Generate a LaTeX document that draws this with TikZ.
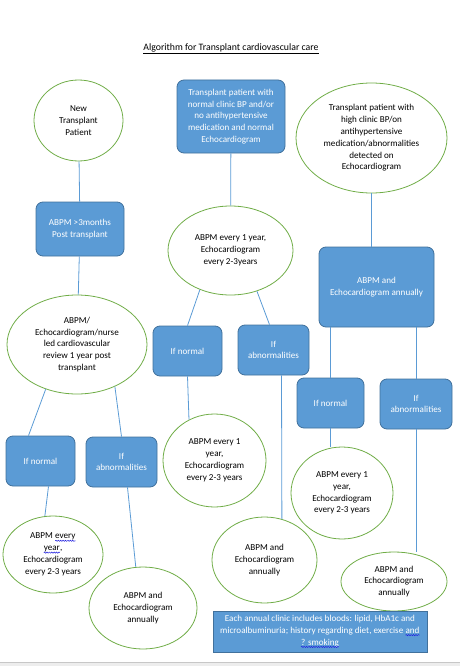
\documentclass[tikz,border=0pt]{standalone}
\usepackage{fontspec}
\setmainfont{Carlito}
\usetikzlibrary{shapes.geometric,decorations.pathmorphing}

\definecolor{boxblue}{HTML}{5B9BD5}
\definecolor{boxedge}{HTML}{41719C}
\definecolor{ellgreen}{HTML}{70AD47}
\definecolor{wavyblue}{HTML}{2020E0}

\newcommand\spellwave[1]{\tikz[baseline=(w.base),x=1pt,y=1pt]{\node[shape=rectangle,draw=none,fill=none,
  inner sep=0pt,outer sep=0pt,minimum width=0pt,minimum height=0pt,rounded corners=0pt] (w) {#1};
  \draw[wavyblue,line width=0.5pt,decorate,decoration={snake,amplitude=0.6pt,segment length=2.4pt}] ([yshift=-1.8pt]w.base west) -- ([yshift=-1.8pt]w.base east);}}

\begin{document}
\begin{tikzpicture}[x=1pt,y=-1pt,
  txt/.style={font=\fontsize{9.1}{11.8}\selectfont,align=center,inner sep=0pt},
  bluebox/.style={txt,draw=boxedge,fill=boxblue,rounded corners=7pt,text=white,line width=0.8pt},
  greenell/.style={txt,ellipse,draw=ellgreen,fill=white,line width=0.8pt},
  conn/.style={draw=boxblue,line width=0.8pt}]
  \useasboundingbox (0,0) rectangle (460,666);
  \fill[black!7] (0,662) rectangle (460,666);
  \draw[black!22] (0,662) -- (460,662);

  \node[txt,font=\fontsize{9.8}{12}\selectfont] (title) at (231,49) {\underline{Algorithm for Transplant cardiovascular care}};

  \node[greenell,minimum width=89,minimum height=81] (newpt) at (78.5,120.5) {New\\Transplant\\Patient};
  \node[bluebox,minimum width=108,minimum height=73] (normbp) at (231,116.5) {Transplant patient with\\normal clinic BP and/or\\no antihypertensive\\medication and normal\\Echocardiogram};
  \node[greenell,minimum width=151,minimum height=110] (highbp) at (371.5,138) {Transplant patient with\\high clinic BP/on\\antihypertensive\\medication/abnormalities\\detected on\\Echocardiogram};

  \node[bluebox,minimum width=88,minimum height=54] (abpmpost) at (80,229) {ABPM >3months\\Post transplant};
  \node[greenell,minimum width=125,minimum height=89] (yearly) at (230.5,250.5) {ABPM every 1 year,\\Echocardiogram\\every 2-3years};
  \node[bluebox,minimum width=115,minimum height=80] (annual) at (376.5,287) {ABPM and\\Echocardiogram annually};

  \node[greenell,minimum width=140,minimum height=99] (review) at (77,344.5) {ABPM/\\Echocardiogram/nurse\\led cardiovascular\\review 1 year post\\transplant};
  \node[bluebox,minimum width=69,minimum height=50] (midnorm) at (187.5,351) {If normal};
  \node[bluebox,minimum width=71,minimum height=50] (midabn) at (273.5,350) {If\\abnormalities};
  \node[bluebox,minimum width=67,minimum height=50] (rightnorm) at (330.5,403) {If normal};
  \node[bluebox,minimum width=72,minimum height=50] (rightabn) at (416,404) {If\\abnormalities};

  \node[bluebox,minimum width=69,minimum height=50] (leftnorm) at (40.5,461) {If normal};
  \node[bluebox,minimum width=71,minimum height=50] (leftabn) at (121.5,462) {If\\abnormalities};
  \node[greenell,minimum width=103,minimum height=93] (midyear) at (214.5,460.5) {ABPM every 1\\year,\\Echocardiogram\\every 2-3 years};
  \node[greenell,minimum width=102,minimum height=92] (rightyear) at (342,493) {ABPM every 1\\year,\\Echocardiogram\\every 2-3 years};

  \node[greenell,minimum width=100,minimum height=77] (leftyear) at (53,554.5) {ABPM \spellwave{every}\\\spellwave{year},\\Echocardiogram\\every 2-3 years};
  \node[greenell,minimum width=105,minimum height=86] (midann) at (264.5,560) {ABPM and\\Echocardiogram\\annually};
  \node[greenell,minimum width=106,minimum height=59] (rightann) at (394,581.5) {ABPM and\\Echocardiogram\\annually};
  \node[greenell,minimum width=108,minimum height=82] (leftann) at (143,608) {ABPM and\\Echocardiogram\\annually};
  \node[txt,draw=boxedge,fill=boxblue,text=white,line width=0.8pt,minimum width=214,minimum height=41] (bloods) at (320,631.5) {Each annual clinic includes bloods: lipid, HbA1c and\\microalbuminuria; history regarding diet, exercise \spellwave{and}\\\spellwave{? smoking}};

  \draw[conn] (newpt) -- (abpmpost);
  \draw[conn] (abpmpost) -- (review);
  \draw[conn] (normbp) -- (yearly);
  \draw[conn] (highbp.south) -- (highbp.south |- annual.north);
  \draw[conn] (yearly.232) -- (midnorm.north);
  \draw[conn] (yearly.303) -- ([xshift=-4pt]midabn.north);
  \draw[conn] (annual.south -| rightnorm.north) -- (rightnorm.north);
  \draw[conn] (annual.south -| rightabn.north) -- (rightabn.north);
  \draw[conn] (review.235) -- ([xshift=-12pt]leftnorm.north);
  \draw[conn] (review.312) -- (leftabn.north);
  \draw[conn] ([xshift=8pt]leftnorm.south) -- (leftyear.102);
  \draw[conn] ([xshift=6pt]leftabn.south) -- (leftann.100);
  \draw[conn] (midnorm.south) -- (midyear.122);
  \draw[conn] ([xshift=8pt]midabn.south) -- (midann.67);
  \draw[conn] (rightnorm.south) -- (rightnorm.south |- rightyear.north);
  \draw[conn] (rightabn.south) -- (rightabn.south |- rightann.north);
\end{tikzpicture}
\end{document}
